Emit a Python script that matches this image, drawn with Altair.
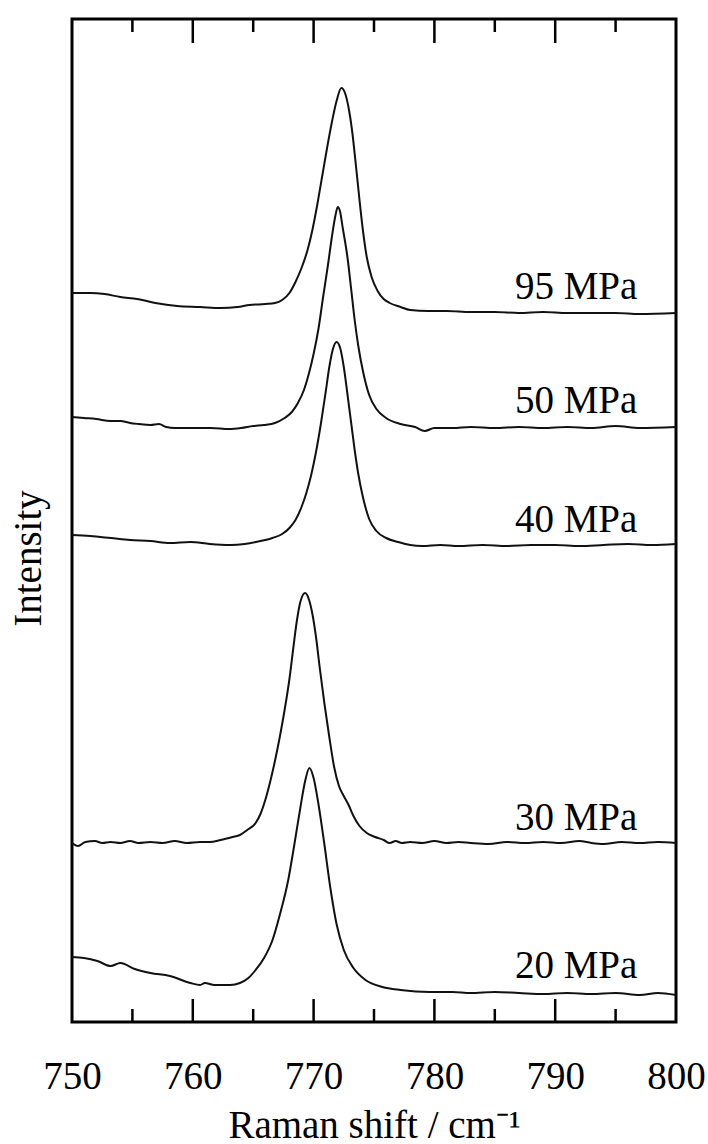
import altair as alt
import pandas as pd

# ---- data (x: Raman shift / cm-1, y: intensity, arbitrary units, stacked) ----
x_95 = [750.0, 751.5, 752.7, 754.0, 755.4, 756.9, 758.7, 760.6, 762.3, 763.7, 764.7, 766.0, 766.8, 767.4,
        768.0, 768.5, 769.0, 769.5, 769.9, 770.3, 770.7, 771.1, 771.5, 771.9, 772.3, 772.6, 772.9, 773.2,
        773.5, 773.8, 774.1, 774.4, 774.8, 775.3, 775.8, 776.3, 777.2, 778.0, 779.5, 781.0, 783.0, 785.0,
        787.0, 789.0, 791.0, 793.0, 795.0, 797.0, 800.0]
y_95 = [729, 729, 728, 725, 723, 719, 716, 715, 714, 715, 717, 718, 719, 722,
        729, 740, 754, 772, 792, 817, 845, 873, 899, 921, 934, 929, 914, 890,
        857, 822, 790, 765, 745, 731, 723, 719, 715, 712, 711, 711, 710, 710,
        709, 710, 709, 709, 709, 708, 709]

x_50 = [750.0, 751.0, 752.0, 753.2, 754.0, 754.8, 755.5, 756.5, 757.2, 757.8, 758.5, 760.0, 761.5, 763.0,
        764.0, 765.0, 765.9, 766.8, 767.6, 768.2, 768.7, 769.2, 769.6, 770.0, 770.4, 770.8, 771.2, 771.5,
        771.8, 772.0, 772.2, 772.4, 772.8, 773.1, 773.4, 773.7, 774.1, 774.6, 775.2, 776.0, 777.2, 778.4,
        779.2, 780.0, 781.5, 783.0, 785.0, 787.0, 789.0, 791.0, 793.0, 795.0, 797.0, 800.0]
y_50 = [605, 604, 603, 601, 601, 599, 598, 597, 598, 595, 594, 594, 594, 593,
        594, 596, 597, 599, 604, 610, 619, 632, 648, 668, 693, 726, 758, 784,
        806, 815, 810, 795, 765, 734, 702, 676, 650, 627, 613, 604, 598, 595,
        591, 594, 594, 595, 594, 595, 594, 595, 594, 596, 594, 595]

x_40 = [750.0, 751.5, 753.2, 754.8, 756.5, 758.1, 759.8, 761.4, 763.1, 764.3, 765.6, 766.6, 767.4, 768.0,
        768.5, 769.0, 769.4, 769.8, 770.2, 770.6, 771.0, 771.3, 771.6, 771.9, 772.2, 772.5, 772.8, 773.1,
        773.4, 773.7, 774.1, 774.6, 775.2, 776.0, 777.0, 778.0, 779.0, 780.5, 782.0, 784.0, 786.0, 788.0,
        790.0, 792.0, 794.0, 796.0, 798.0, 800.0]
y_40 = [487, 486, 484, 482, 481, 479, 480, 478, 477, 478, 481, 484, 488, 494,
        502, 515, 529, 547, 570, 598, 630, 655, 673, 680, 674, 655, 628, 600,
        572, 548, 524, 503, 491, 484, 480, 477, 476, 477, 476, 477, 476, 477,
        477, 476, 477, 478, 477, 478]

x_30 = [750.0, 750.5, 751.1, 751.9, 752.5, 753.2, 754.0, 754.8, 755.5, 756.5, 757.5, 758.5, 759.5, 760.6,
        761.4, 762.3, 763.3, 763.9, 764.5, 765.2, 765.6, 766.0, 766.4, 766.8, 767.2, 767.6, 768.0, 768.3,
        768.6, 768.9, 769.3, 769.6, 769.9, 770.2, 770.5, 770.9, 771.3, 771.7, 772.1, 772.5, 772.9, 773.3,
        773.8, 774.4, 775.1, 775.8, 776.3, 776.8, 777.3, 778.0, 779.0, 780.0, 781.0, 782.0, 783.0, 784.5,
        786.0, 787.5, 789.0, 790.5, 792.0, 793.0, 794.0, 795.5, 797.0, 798.5, 800.0]
y_30 = [179, 176, 180, 181, 179, 180, 179, 181, 179, 180, 179, 181, 179, 180,
        180, 182, 185, 187, 192, 199, 208, 222, 240, 261, 285, 312, 343, 372,
        400, 420, 429, 423, 408, 385, 355, 318, 285, 255, 236, 226, 217, 206,
        196, 189, 185, 182, 179, 181, 179, 180, 179, 181, 179, 180, 179, 178,
        180, 179, 180, 179, 181, 179, 178, 180, 179, 180, 179]

x_20 = [750.0, 751.0, 752.1, 753.2, 754.0, 755.2, 756.5, 758.1, 759.8, 760.6, 761.0, 761.8, 763.1, 763.9,
        764.6, 765.2, 765.9, 766.6, 767.2, 767.9, 768.4, 768.9, 769.3, 769.65, 770.0, 770.4, 770.9, 771.4,
        771.9, 772.5, 773.3, 774.3, 775.7, 777.2, 779.6, 781.5, 783.0, 785.0, 787.0, 789.0, 791.0, 793.0,
        795.0, 797.0, 798.5, 800.0]
y_20 = [65, 64, 61, 56, 59, 53, 49, 46, 39, 37, 39, 37, 37, 39,
        44, 52, 64, 82, 107, 142, 177, 214, 241, 254, 244, 218, 177, 133,
        98, 72, 54, 42, 35, 32, 30, 30, 29, 30, 29, 28, 29, 28,
        29, 27, 29, 27]

series_names = ["95 MPa", "50 MPa", "40 MPa", "30 MPa", "20 MPa"]
series_x = [x_95, x_50, x_40, x_30, x_20]
series_y = [y_95, y_50, y_40, y_30, y_20]

label_x = [796.8, 796.8, 796.8, 796.8, 796.8]
label_y = [723, 609, 490, 192, 44]

major_ticks = [760, 770, 780, 790]
minor_ticks = [755, 765, 775, 785, 795]
axis_labels = [750, 760, 770, 780, 790, 800]

FONT = "Liberation Serif"
W, H = 604, 1003

rows = []
for name, xs, ys in zip(series_names, series_x, series_y):
    for xv, yv in zip(xs, ys):
        rows.append({"series": name, "shift": xv, "intensity": yv})
df = pd.DataFrame(rows)

labels_df = pd.DataFrame({"label": series_names, "shift": label_x, "intensity": label_y})
major_df = pd.DataFrame({"shift": major_ticks})
minor_df = pd.DataFrame({"shift": minor_ticks})

xscale = alt.Scale(domain=[750, 800], nice=False, zero=False)
yscale = alt.Scale(domain=[0, 1003], nice=False, zero=False)

x_enc = alt.X(
    "shift:Q", scale=xscale,
    axis=alt.Axis(values=axis_labels, tickSize=0, domain=False, grid=False,
                  labelFlush=False, labelOverlap=False,
                  labelFont=FONT, labelFontSize=39, labelColor="black", labelPadding=35,
                  title="Raman shift / cm\u207b\u00b9", titleFont=FONT, titleFontSize=39,
                  titleFontWeight="normal", titleColor="black", titlePadding=10),
)
y_enc = alt.Y(
    "intensity:Q", scale=yscale,
    axis=alt.Axis(ticks=False, labels=False, domain=False, grid=False,
                  title="Intensity", titleFont=FONT, titleFontSize=39, titleFontWeight="normal",
                  titleColor="black", titleX=-32, titleY=539, titleBaseline="alphabetic",
                  titleAlign="center", titleAngle=270),
)

lines = alt.Chart(df).mark_line(color="#111111", strokeWidth=2, interpolate="monotone").encode(
    x=x_enc, y=y_enc, detail="series:N", order="shift:Q"
)

texts = alt.Chart(labels_df).mark_text(
    font=FONT, fontSize=39, align="right", baseline="alphabetic", color="black"
).encode(
    x=alt.X("shift:Q", scale=xscale), y=alt.Y("intensity:Q", scale=yscale), text="label:N"
)

def ticks(df_t, y0, y1):
    return alt.Chart(df_t).mark_rule(color="black", strokeWidth=2.5).encode(
        x=alt.X("shift:Q", scale=xscale), y=alt.value(y0), y2=alt.value(y1)
    )

chart = alt.layer(
    lines, texts,
    ticks(major_df, 0, 24), ticks(minor_df, 0, 13),
    ticks(major_df, H, H - 23), ticks(minor_df, H, H - 13),
).properties(
    width=W, height=H,
    background="white",
    padding={"left": 72, "top": 19, "right": 32, "bottom": 122},
    autosize=alt.AutoSizeParams(type="none"),
).configure_view(
    stroke="black", strokeWidth=3
)

chart.save("out.html", embed_options={"renderer": "svg", "actions": False})
